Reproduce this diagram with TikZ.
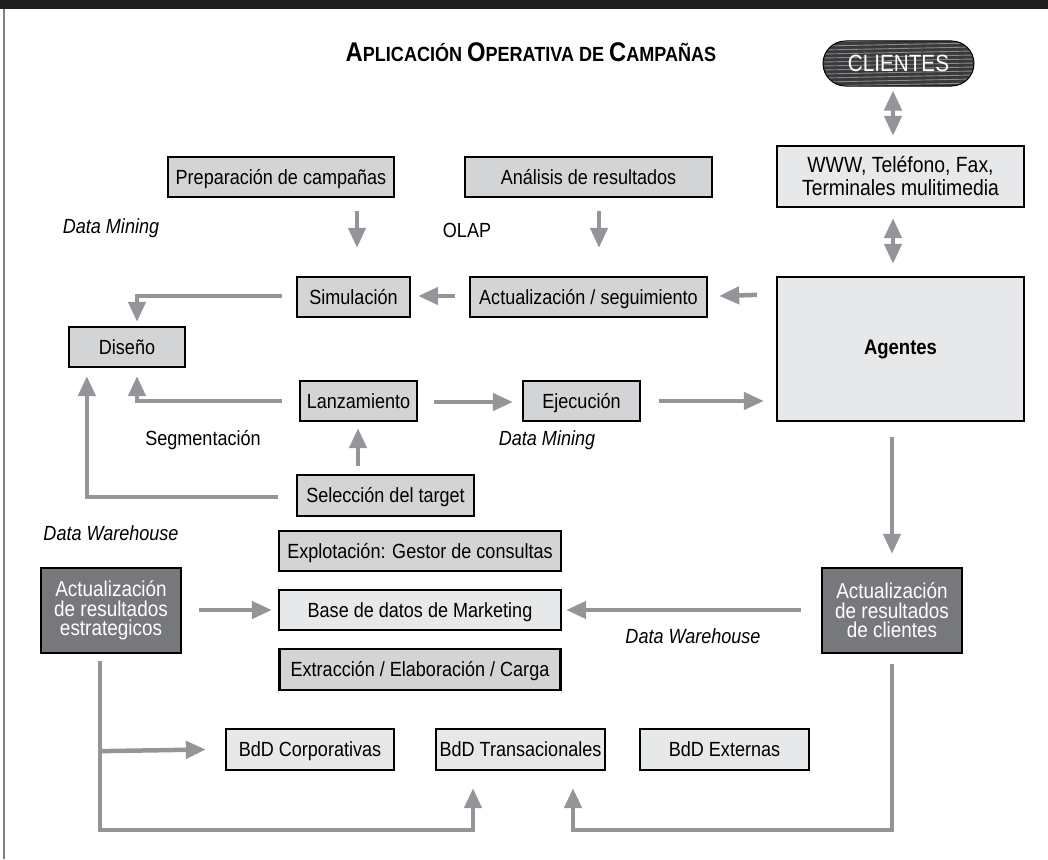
\documentclass[tikz,border=0pt]{standalone}
\usepackage{fontspec}
\setmainfont{Liberation Sans}[FakeStretch=0.88]
\usetikzlibrary{arrows.meta,calc}
\definecolor{boxmid}{HTML}{D3D4D6}
\definecolor{boxlight}{HTML}{E7E8E9}
\definecolor{boxdark}{HTML}{77787B}
\definecolor{arrgray}{HTML}{939598}
\definecolor{pilldark}{HTML}{3A3A3C}
\definecolor{stripe}{HTML}{8A8B8D}
\newcommand\TitBig[1]{{\fontsize{27}{30}\selectfont #1}}
\newcommand\TitSm[1]{{\fontsize{20.5}{30}\selectfont #1}}
\begin{document}
\begin{tikzpicture}[x=1pt,y=-1pt,
  box/.style={draw=black,line width=2.3pt,inner sep=0pt,align=center,font=\fontsize{20.5}{23}\selectfont},
  one/.style={text height=18.7pt,text depth=4pt},
  mid/.style={box,one,fill=boxmid},
  light/.style={box,fill=boxlight},
  dark/.style={box,fill=boxdark,text=white,font=\fontsize{21.5}{19.5}\selectfont},
  lab/.style={font=\fontsize{20.5}{23}\selectfont},
  itlab/.style={font=\fontsize{20.5}{23}\selectfont\itshape},
  arr/.style={draw=arrgray,line width=4.5pt,-{Triangle[width=17pt,length=20pt]}},
  darr/.style={draw=arrgray,line width=4.5pt,{Triangle[width=17pt,length=20pt]}-{Triangle[width=17pt,length=20pt]}}]
\useasboundingbox (0,0) rectangle (1048,859);
% frame
\fill[black!88] (0,0) rectangle (1048,9);
\draw[gray,line width=1.5pt] (4,9) -- (4,859);
% title
\node[font=\fontsize{20.5}{30}\selectfont\bfseries] (title) at (531,52) {\TitBig{A}\TitSm{PLICACIÓN} \TitBig{O}\TitSm{PERATIVA DE} \TitBig{C}\TitSm{AMPAÑAS}};
% clientes pill
\node[draw=black,line width=1pt,fill=pilldark,rounded corners=22.5pt,minimum width=151pt,minimum height=45pt,inner sep=0pt,text=white,font=\fontsize{23.5}{26}\selectfont,
  path picture={\foreach \k in {0,...,13}{\draw[stripe,line width=0.9pt] ($(path picture bounding box.north west)+(0,\k*4+1)$) -- ++(151,-3);}}]
  (cli) at (898.5,63.5) {CLIENTES};
% boxes
\node[light,minimum width=247pt,minimum height=61pt,font=\fontsize{22}{23}\selectfont] (www) at (900.5,176.5) {WWW, Teléfono, Fax,\\Terminales mulitimedia};
\node[light,minimum width=247pt,minimum height=144pt,font=\fontsize{21}{23}\selectfont] (age) at (900.5,349) {\bfseries Agentes};
\node[mid,minimum width=226pt,minimum height=40pt] (prep) at (281,177) {Preparación de campañas};
\node[mid,minimum width=247pt,minimum height=40pt] (ana) at (588.5,177) {Análisis de resultados};
\node[mid,minimum width=113pt,minimum height=40pt] (sim) at (353.5,297) {Simulación};
\node[mid,minimum width=237pt,minimum height=40pt] (act) at (588.5,297) {Actualización / seguimiento};
\node[mid,minimum width=116pt,minimum height=40pt] (dis) at (127,347) {Diseño};
\node[mid,minimum width=117pt,minimum height=40pt] (lan) at (358.5,401) {Lanzamiento};
\node[mid,minimum width=117pt,minimum height=40pt] (eje) at (581.5,401) {Ejecución};
\node[mid,minimum width=177pt,minimum height=41pt] (sel) at (385.5,495.5) {Selección del target};
\node[mid,minimum width=282pt,minimum height=40pt] (exp) at (420,551) {Explotación: Gestor de consultas};
\node[light,one,minimum width=282pt,minimum height=40pt] (base) at (420,610) {Base de datos de Marketing};
\node[mid,minimum width=281pt,minimum height=41pt] (ext) at (420,669.5) {Extracción / Elaboración / Carga};
\node[dark,minimum width=140pt,minimum height=85pt] (est) at (111,610.5) {Actualización\\de resultados\\estrategicos};
\node[dark,minimum width=140pt,minimum height=85pt] (clie) at (892,610.5) {Actualización\\de resultados\\de clientes};
\node[light,one,minimum width=168pt,minimum height=41pt] (corp) at (310,749.5) {BdD Corporativas};
\node[light,one,minimum width=169pt,minimum height=41pt] (tra) at (520.5,749.5) {BdD Transacionales};
\node[light,one,minimum width=169pt,minimum height=41pt] (exe) at (724.5,749.5) {BdD Externas};
% labels
\node[itlab] (dm1) at (111,228) {Data Mining};
\node[lab] (olap) at (467,230) {OLAP};
\node[lab] (seg) at (203,440) {Segmentación};
\node[itlab] (dm2) at (547,440) {Data Mining};
\node[itlab] (dw1) at (111,533) {Data Warehouse};
\node[itlab] (dw2) at (693,636) {Data Warehouse};
% double arrows
\draw[darr] ($(cli.south)+(-5.5,4)$) -- ($(www.north)+(-7.5,-9)$);
\draw[darr] ($(www.south)+(-7.5,10)$) -- ($(age.north)+(-7.5,-12)$);
% arrows
\draw[arr] ($(prep.south)+(76,13)$) -- ($(sim.north)+(3.5,-28)$);
\draw[arr] ($(ana.south)+(10.5,13)$) -- ($(act.north)+(10.5,-28)$);
\draw[arr] ($(act.west)+(-14,-1)$) -- ($(sim.east)+(7,-1)$);
\draw[arr] ($(age.north west)+(-19,19)$) -- ($(act.east)+(11,-1)$);
\draw[arr] ($(sim.west)+(-14,-1)$) -| ($(dis.north)+(10,-4)$);
\draw[arr] ($(lan.west)+(-17,0)$) -| ($(dis.south)+(10,8)$);
\draw[arr] ($(sel.north)+(-27.5,-8)$) -- ($(lan.south)+(-0.5,6)$);
\draw[arr] ($(sel.west)+(-18,1.5)$) -| ($(dis.south west)+(19,8)$);
\draw[arr] ($(lan.east)+(16,1)$) -- ($(eje.west)+(-9,1)$);
\draw[arr] ($(eje.east)+(18,0)$) -- ($(age.west |- eje.east)+(-12,0)$);
\draw[arr] ($(age.south)+(-8.5,15)$) -- ($(clie.north)+(0,-13)$);
\draw[arr] ($(est.east)+(17,-0.5)$) -- ($(base.west)+(-6,0)$);
\draw[arr] ($(clie.west)+(-20,-0.5)$) -- ($(base.east)+(4,0)$);
\draw[arr] ($(est.south)+(-11,97)$) -- ($(corp.west)+(-19,0)$);
\draw[arr] ($(est.south)+(-11,7)$) -- ++(0,169) -| ($(tra.south)+(-47.5,17)$);
\draw[arr] ($(clie.south)+(0,10)$) -- ++(0,166) -| ($(tra.south)+(52.5,17)$);
\end{tikzpicture}
\end{document}
